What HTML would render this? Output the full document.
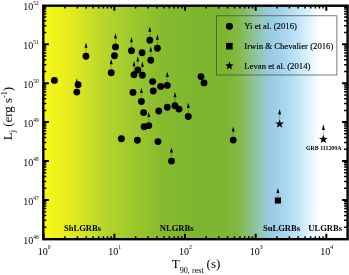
<!DOCTYPE html><html><head><meta charset="utf-8"><title>plot</title><style>html,body{margin:0;padding:0;background:#fff}svg{display:block}text{font-family:"Liberation Serif","Times New Roman",serif;fill:#000}</style></head><body>
<svg width="349" height="275" viewBox="0 0 349 275">
<defs><linearGradient id="bg" gradientUnits="userSpaceOnUse" x1="44" y1="0" x2="347" y2="0">
<stop offset="0.0000" stop-color="#f8f818"/>
<stop offset="0.0858" stop-color="#e6ec1e"/>
<stop offset="0.1848" stop-color="#bcd82a"/>
<stop offset="0.2838" stop-color="#9eca2c"/>
<stop offset="0.3828" stop-color="#88bc2e"/>
<stop offset="0.5149" stop-color="#7cb52e"/>
<stop offset="0.6073" stop-color="#7db632"/>
<stop offset="0.6469" stop-color="#84ba4c"/>
<stop offset="0.6799" stop-color="#8cc080"/>
<stop offset="0.7129" stop-color="#92c8b4"/>
<stop offset="0.7459" stop-color="#98cce4"/>
<stop offset="0.7855" stop-color="#a4d4ec"/>
<stop offset="0.8350" stop-color="#bfe4f6"/>
<stop offset="0.8779" stop-color="#e0f4fd"/>
<stop offset="0.9109" stop-color="#ffffff"/>
<stop offset="1.0000" stop-color="#ffffff"/>
</linearGradient><filter id="soft" x="-5%" y="-5%" width="110%" height="110%"><feGaussianBlur stdDeviation="0.35"/></filter></defs>
<rect width="349" height="275" fill="#fff"/>
<rect x="43.3" y="5.7" width="304.3" height="233.5" fill="url(#bg)"/>
<g filter="url(#soft)">
<g stroke="#000" stroke-width="2" fill="none"><path d="M43.70 239.20V233.70M43.70 5.70V10.70"/><path d="M114.35 239.20V233.70M114.35 5.70V10.70"/><path d="M185.00 239.20V233.70M185.00 5.70V10.70"/><path d="M255.65 239.20V233.70M255.65 5.70V10.70"/><path d="M326.30 239.20V233.70M326.30 5.70V10.70"/><path d="M43.30 238.90H48.90M347.60 238.90H342.10"/><path d="M43.30 199.97H48.90M347.60 199.97H342.10"/><path d="M43.30 161.05H48.90M347.60 161.05H342.10"/><path d="M43.30 122.12H48.90M347.60 122.12H342.10"/><path d="M43.30 83.20H48.90M347.60 83.20H342.10"/><path d="M43.30 44.27H48.90M347.60 44.27H342.10"/></g>
<g stroke="#000" stroke-width="1.5" fill="none"><path d="M64.97 239.20V236.20M64.97 5.70V8.40"/><path d="M77.41 239.20V236.20M77.41 5.70V8.40"/><path d="M86.24 239.20V236.20M86.24 5.70V8.40"/><path d="M93.08 239.20V236.20M93.08 5.70V8.40"/><path d="M98.68 239.20V236.20M98.68 5.70V8.40"/><path d="M103.41 239.20V236.20M103.41 5.70V8.40"/><path d="M107.50 239.20V236.20M107.50 5.70V8.40"/><path d="M111.12 239.20V236.20M111.12 5.70V8.40"/><path d="M135.62 239.20V236.20M135.62 5.70V8.40"/><path d="M148.06 239.20V236.20M148.06 5.70V8.40"/><path d="M156.89 239.20V236.20M156.89 5.70V8.40"/><path d="M163.73 239.20V236.20M163.73 5.70V8.40"/><path d="M169.33 239.20V236.20M169.33 5.70V8.40"/><path d="M174.06 239.20V236.20M174.06 5.70V8.40"/><path d="M178.15 239.20V236.20M178.15 5.70V8.40"/><path d="M181.77 239.20V236.20M181.77 5.70V8.40"/><path d="M206.27 239.20V236.20M206.27 5.70V8.40"/><path d="M218.71 239.20V236.20M218.71 5.70V8.40"/><path d="M227.54 239.20V236.20M227.54 5.70V8.40"/><path d="M234.38 239.20V236.20M234.38 5.70V8.40"/><path d="M239.98 239.20V236.20M239.98 5.70V8.40"/><path d="M244.71 239.20V236.20M244.71 5.70V8.40"/><path d="M248.80 239.20V236.20M248.80 5.70V8.40"/><path d="M252.42 239.20V236.20M252.42 5.70V8.40"/><path d="M276.92 239.20V236.20M276.92 5.70V8.40"/><path d="M289.36 239.20V236.20M289.36 5.70V8.40"/><path d="M298.19 239.20V236.20M298.19 5.70V8.40"/><path d="M305.03 239.20V236.20M305.03 5.70V8.40"/><path d="M310.63 239.20V236.20M310.63 5.70V8.40"/><path d="M315.36 239.20V236.20M315.36 5.70V8.40"/><path d="M319.45 239.20V236.20M319.45 5.70V8.40"/><path d="M323.07 239.20V236.20M323.07 5.70V8.40"/><path d="M43.30 227.18H46.30M347.60 227.18H344.10"/><path d="M43.30 220.33H46.30M347.60 220.33H344.10"/><path d="M43.30 215.46H46.30M347.60 215.46H344.10"/><path d="M43.30 211.69H46.30M347.60 211.69H344.10"/><path d="M43.30 208.61H46.30M347.60 208.61H344.10"/><path d="M43.30 206.00H46.30M347.60 206.00H344.10"/><path d="M43.30 203.75H46.30M347.60 203.75H344.10"/><path d="M43.30 201.76H46.30M347.60 201.76H344.10"/><path d="M43.30 188.26H46.30M347.60 188.26H344.10"/><path d="M43.30 181.40H46.30M347.60 181.40H344.10"/><path d="M43.30 176.54H46.30M347.60 176.54H344.10"/><path d="M43.30 172.77H46.30M347.60 172.77H344.10"/><path d="M43.30 169.69H46.30M347.60 169.69H344.10"/><path d="M43.30 167.08H46.30M347.60 167.08H344.10"/><path d="M43.30 164.82H46.30M347.60 164.82H344.10"/><path d="M43.30 162.83H46.30M347.60 162.83H344.10"/><path d="M43.30 149.33H46.30M347.60 149.33H344.10"/><path d="M43.30 142.48H46.30M347.60 142.48H344.10"/><path d="M43.30 137.61H46.30M347.60 137.61H344.10"/><path d="M43.30 133.84H46.30M347.60 133.84H344.10"/><path d="M43.30 130.76H46.30M347.60 130.76H344.10"/><path d="M43.30 128.15H46.30M347.60 128.15H344.10"/><path d="M43.30 125.90H46.30M347.60 125.90H344.10"/><path d="M43.30 123.91H46.30M347.60 123.91H344.10"/><path d="M43.30 110.41H46.30M347.60 110.41H344.10"/><path d="M43.30 103.55H46.30M347.60 103.55H344.10"/><path d="M43.30 98.69H46.30M347.60 98.69H344.10"/><path d="M43.30 94.92H46.30M347.60 94.92H344.10"/><path d="M43.30 91.84H46.30M347.60 91.84H344.10"/><path d="M43.30 89.23H46.30M347.60 89.23H344.10"/><path d="M43.30 86.97H46.30M347.60 86.97H344.10"/><path d="M43.30 84.98H46.30M347.60 84.98H344.10"/><path d="M43.30 71.48H46.30M347.60 71.48H344.10"/><path d="M43.30 64.63H46.30M347.60 64.63H344.10"/><path d="M43.30 59.76H46.30M347.60 59.76H344.10"/><path d="M43.30 55.99H46.30M347.60 55.99H344.10"/><path d="M43.30 52.91H46.30M347.60 52.91H344.10"/><path d="M43.30 50.30H46.30M347.60 50.30H344.10"/><path d="M43.30 48.05H46.30M347.60 48.05H344.10"/><path d="M43.30 46.06H46.30M347.60 46.06H344.10"/><path d="M43.30 32.56H46.30M347.60 32.56H344.10"/><path d="M43.30 25.70H46.30M347.60 25.70H344.10"/><path d="M43.30 20.84H46.30M347.60 20.84H344.10"/><path d="M43.30 17.07H46.30M347.60 17.07H344.10"/><path d="M43.30 13.99H46.30M347.60 13.99H344.10"/><path d="M43.30 11.38H46.30M347.60 11.38H344.10"/><path d="M43.30 9.12H46.30M347.60 9.12H344.10"/><path d="M43.30 7.13H46.30M347.60 7.13H344.10"/></g>
<rect x="43.30" y="5.70" width="304.30" height="233.50" fill="none" stroke="#000" stroke-width="2.4"/>
<line x1="76.80" y1="89.10" x2="76.80" y2="83.60" stroke="#222" stroke-opacity="0.55" stroke-width="0.5"/><polygon points="76.80,78.40 75.30,83.60 78.30,83.60" fill="#000"/><line x1="86.00" y1="53.30" x2="86.00" y2="47.80" stroke="#222" stroke-opacity="0.55" stroke-width="0.5"/><polygon points="86.00,42.60 84.50,47.80 87.50,47.80" fill="#000"/><line x1="115.50" y1="43.90" x2="115.50" y2="38.40" stroke="#222" stroke-opacity="0.55" stroke-width="0.5"/><polygon points="115.50,33.20 114.00,38.40 117.00,38.40" fill="#000"/><line x1="111.20" y1="69.80" x2="111.20" y2="64.30" stroke="#222" stroke-opacity="0.55" stroke-width="0.5"/><polygon points="111.20,59.10 109.70,64.30 112.70,64.30" fill="#000"/><line x1="131.50" y1="47.70" x2="131.50" y2="42.20" stroke="#222" stroke-opacity="0.55" stroke-width="0.5"/><polygon points="131.50,37.00 130.00,42.20 133.00,42.20" fill="#000"/><line x1="149.80" y1="37.30" x2="149.80" y2="31.80" stroke="#222" stroke-opacity="0.55" stroke-width="0.5"/><polygon points="149.80,26.60 148.30,31.80 151.30,31.80" fill="#000"/><line x1="157.40" y1="45.20" x2="157.40" y2="39.70" stroke="#222" stroke-opacity="0.55" stroke-width="0.5"/><polygon points="157.40,34.50 155.90,39.70 158.90,39.70" fill="#000"/><line x1="150.80" y1="57.20" x2="150.80" y2="51.70" stroke="#222" stroke-opacity="0.55" stroke-width="0.5"/><polygon points="150.80,46.50 149.30,51.70 152.30,51.70" fill="#000"/><line x1="137.80" y1="67.00" x2="137.80" y2="61.50" stroke="#222" stroke-opacity="0.55" stroke-width="0.5"/><polygon points="137.80,56.30 136.30,61.50 139.30,61.50" fill="#000"/><line x1="134.00" y1="71.80" x2="134.00" y2="66.30" stroke="#222" stroke-opacity="0.55" stroke-width="0.5"/><polygon points="134.00,61.10 132.50,66.30 135.50,66.30" fill="#000"/><line x1="142.40" y1="72.30" x2="142.40" y2="66.80" stroke="#222" stroke-opacity="0.55" stroke-width="0.5"/><polygon points="142.40,61.60 140.90,66.80 143.90,66.80" fill="#000"/><line x1="167.30" y1="82.40" x2="167.30" y2="76.90" stroke="#222" stroke-opacity="0.55" stroke-width="0.5"/><polygon points="167.30,71.70 165.80,76.90 168.80,76.90" fill="#000"/><line x1="141.40" y1="98.50" x2="141.40" y2="93.00" stroke="#222" stroke-opacity="0.55" stroke-width="0.5"/><polygon points="141.40,87.80 139.90,93.00 142.90,93.00" fill="#000"/><line x1="175.00" y1="102.80" x2="175.00" y2="97.30" stroke="#222" stroke-opacity="0.55" stroke-width="0.5"/><polygon points="175.00,92.10 173.50,97.30 176.50,97.30" fill="#000"/><line x1="188.30" y1="113.50" x2="188.30" y2="108.00" stroke="#222" stroke-opacity="0.55" stroke-width="0.5"/><polygon points="188.30,102.80 186.80,108.00 189.80,108.00" fill="#000"/><line x1="148.80" y1="122.60" x2="148.80" y2="117.10" stroke="#222" stroke-opacity="0.55" stroke-width="0.5"/><polygon points="148.80,111.90 147.30,117.10 150.30,117.10" fill="#000"/><line x1="171.50" y1="158.10" x2="171.50" y2="152.60" stroke="#222" stroke-opacity="0.55" stroke-width="0.5"/><polygon points="171.50,147.40 170.00,152.60 173.00,152.60" fill="#000"/><line x1="233.20" y1="137.10" x2="233.20" y2="131.60" stroke="#222" stroke-opacity="0.55" stroke-width="0.5"/><polygon points="233.20,126.40 231.70,131.60 234.70,131.60" fill="#000"/><circle cx="54.40" cy="80.40" r="3.45" fill="#000"/><circle cx="78.10" cy="84.70" r="3.45" fill="#000"/><circle cx="76.80" cy="92.10" r="3.45" fill="#000"/><circle cx="86.00" cy="56.30" r="3.45" fill="#000"/><circle cx="115.50" cy="46.90" r="3.45" fill="#000"/><circle cx="114.50" cy="55.80" r="3.45" fill="#000"/><circle cx="111.20" cy="72.80" r="3.45" fill="#000"/><circle cx="131.50" cy="50.70" r="3.45" fill="#000"/><circle cx="133.00" cy="92.40" r="3.45" fill="#000"/><circle cx="149.80" cy="40.30" r="3.45" fill="#000"/><circle cx="142.10" cy="52.80" r="3.45" fill="#000"/><circle cx="157.40" cy="48.20" r="3.45" fill="#000"/><circle cx="150.80" cy="60.20" r="3.45" fill="#000"/><circle cx="137.80" cy="70.00" r="3.45" fill="#000"/><circle cx="134.00" cy="74.80" r="3.45" fill="#000"/><circle cx="142.40" cy="75.30" r="3.45" fill="#000"/><circle cx="152.60" cy="81.60" r="3.45" fill="#000"/><circle cx="160.70" cy="86.50" r="3.45" fill="#000"/><circle cx="167.30" cy="85.40" r="3.45" fill="#000"/><circle cx="153.30" cy="91.00" r="3.45" fill="#000"/><circle cx="141.40" cy="101.50" r="3.45" fill="#000"/><circle cx="143.60" cy="112.60" r="3.45" fill="#000"/><circle cx="158.80" cy="111.00" r="3.45" fill="#000"/><circle cx="167.30" cy="107.30" r="3.45" fill="#000"/><circle cx="175.00" cy="105.80" r="3.45" fill="#000"/><circle cx="179.00" cy="109.10" r="3.45" fill="#000"/><circle cx="188.30" cy="116.50" r="3.45" fill="#000"/><circle cx="148.80" cy="125.60" r="3.45" fill="#000"/><circle cx="144.10" cy="126.80" r="3.45" fill="#000"/><circle cx="121.40" cy="138.80" r="3.45" fill="#000"/><circle cx="137.40" cy="140.30" r="3.45" fill="#000"/><circle cx="158.00" cy="141.60" r="3.45" fill="#000"/><circle cx="171.50" cy="161.10" r="3.45" fill="#000"/><circle cx="201.00" cy="76.60" r="3.45" fill="#000"/><circle cx="204.00" cy="82.90" r="3.45" fill="#000"/><circle cx="233.20" cy="140.10" r="3.45" fill="#000"/><line x1="279.60" y1="120.50" x2="279.60" y2="114.60" stroke="#222" stroke-opacity="0.55" stroke-width="0.5"/><polygon points="279.60,109.00 278.10,114.60 281.10,114.60" fill="#000"/><polygon points="279.60,119.40 280.69,122.50 283.97,122.58 281.36,124.57 282.30,127.72 279.60,125.85 276.90,127.72 277.84,124.57 275.23,122.58 278.51,122.50" fill="#000"/><line x1="323.40" y1="135.80" x2="323.40" y2="129.90" stroke="#222" stroke-opacity="0.55" stroke-width="0.5"/><polygon points="323.40,124.30 321.90,129.90 324.90,129.90" fill="#000"/><polygon points="323.40,134.70 324.49,137.80 327.77,137.88 325.16,139.87 326.10,143.02 323.40,141.15 320.70,143.02 321.64,139.87 319.03,137.88 322.31,137.80" fill="#000"/><line x1="277.90" y1="197.50" x2="277.90" y2="193.10" stroke="#222" stroke-opacity="0.55" stroke-width="0.5"/><polygon points="277.90,188.00 276.40,193.10 279.40,193.10" fill="#000"/><rect x="274.85" y="197.45" width="6.1" height="6.1" fill="#000"/>
<rect x="216.4" y="15.8" width="120.5" height="59.2" fill="none" stroke="#444" stroke-width="0.7"/>
<circle cx="229.4" cy="26.3" r="3.5" fill="#000"/>
<rect x="226.1" y="42.9" width="6.6" height="6.6" fill="#000"/>
<polygon points="229.40,61.20 230.49,64.30 233.77,64.38 231.16,66.37 232.10,69.52 229.40,67.65 226.70,69.52 227.64,66.37 225.03,64.38 228.31,64.30" fill="#000"/>
<g font-size="8.7" fill="#111" stroke="#111" stroke-width="0.15"><text x="244.3" y="29.2">Yi et al. (2016)</text><text x="244.3" y="49.4">Irwin &amp; Chevalier (2016)</text><text x="244.3" y="69.2">Levan et al. (2014)</text></g>
<g font-size="8.6" font-weight="bold"><text x="63.9" y="230.6">ShLGRBs</text><text x="159.7" y="230.6">NLGRBs</text><text x="262.9" y="230.6">SuLGRBs</text><text x="308.2" y="230.6">ULGRBs</text></g>
<text x="306" y="150.4" font-size="5.9" font-weight="bold">GRB 111209A</text>
<text transform="translate(23.2 10.35) scale(0.93 1)" font-size="10.8">10</text><text transform="translate(33.2 5.05) scale(0.8 1)" font-size="6.8">52</text>
<text transform="translate(23.2 49.28) scale(0.93 1)" font-size="10.8">10</text><text transform="translate(33.2 43.98) scale(0.8 1)" font-size="6.8">51</text>
<text transform="translate(23.2 88.20) scale(0.93 1)" font-size="10.8">10</text><text transform="translate(33.2 82.90) scale(0.8 1)" font-size="6.8">50</text>
<text transform="translate(23.2 127.12) scale(0.93 1)" font-size="10.8">10</text><text transform="translate(33.2 121.83) scale(0.8 1)" font-size="6.8">49</text>
<text transform="translate(23.2 166.05) scale(0.93 1)" font-size="10.8">10</text><text transform="translate(33.2 160.75) scale(0.8 1)" font-size="6.8">48</text>
<text transform="translate(23.2 204.98) scale(0.93 1)" font-size="10.8">10</text><text transform="translate(33.2 199.68) scale(0.8 1)" font-size="6.8">47</text>
<text transform="translate(23.2 243.90) scale(0.93 1)" font-size="10.8">10</text><text transform="translate(33.2 238.60) scale(0.8 1)" font-size="6.8">46</text>
<text transform="translate(37.70 254.6) scale(0.93 1)" font-size="10.8">10</text><text transform="translate(47.70 249.0) scale(0.85 1)" font-size="6.8">0</text>
<text transform="translate(108.35 254.6) scale(0.93 1)" font-size="10.8">10</text><text transform="translate(118.35 249.0) scale(0.85 1)" font-size="6.8">1</text>
<text transform="translate(179.00 254.6) scale(0.93 1)" font-size="10.8">10</text><text transform="translate(189.00 249.0) scale(0.85 1)" font-size="6.8">2</text>
<text transform="translate(249.65 254.6) scale(0.93 1)" font-size="10.8">10</text><text transform="translate(259.65 249.0) scale(0.85 1)" font-size="6.8">3</text>
<text transform="translate(320.30 254.6) scale(0.93 1)" font-size="10.8">10</text><text transform="translate(330.30 249.0) scale(0.85 1)" font-size="6.8">4</text>
<text x="171.7" y="268.4" font-size="13">T<tspan dy="4.8" font-size="8.2">90, rest</tspan></text><text x="206.6" y="268.4" font-size="13">(s)</text>
<text transform="translate(11.7 140.3) rotate(-90)" font-size="13">L<tspan dy="3" font-size="8">j</tspan><tspan dy="-3" font-size="13"> (erg s</tspan><tspan dy="-4.5" font-size="8">-1</tspan><tspan dy="4.5" font-size="13">)</tspan></text>
</g>
</svg></body></html>
